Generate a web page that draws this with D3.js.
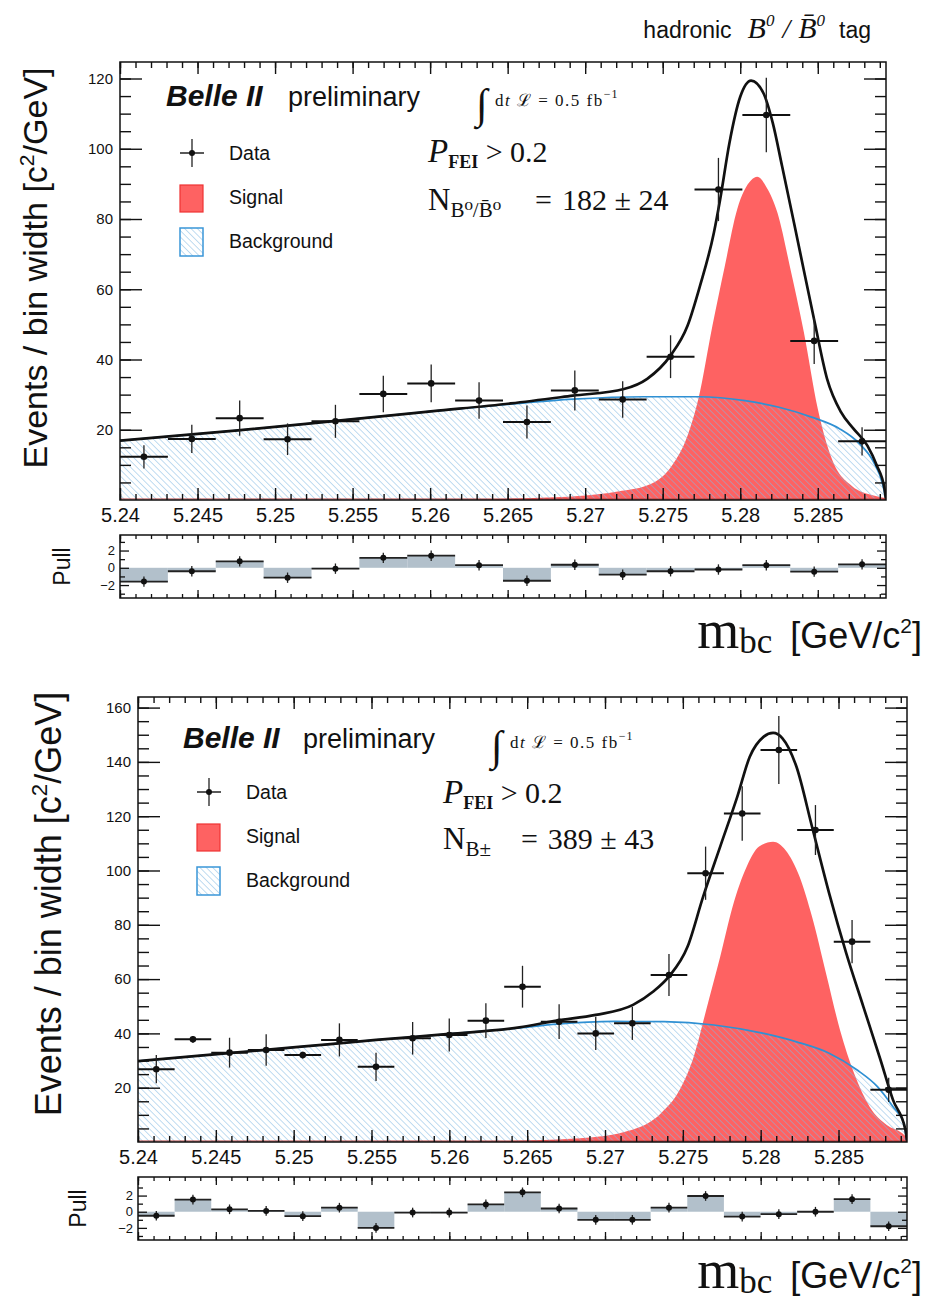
<!DOCTYPE html>
<html lang="en">
<head>
<meta charset="UTF-8">
<title>Belle II mbc fits</title>
<script src="https://d3js.org/d3.v7.min.js"></script>
<style>
    body { margin: 0; background: white; }
    text { font-family: "Liberation Sans", Arial, sans-serif; fill: #111; }
    .serif { font-family: "Liberation Serif", "DejaVu Serif", serif; }
    .tick line { stroke: #111; }
</style>
</head>
<body>
<svg id="svg1" width="935" height="1301" style="background:white;"></svg>

<script>
// ---------------- data ----------------
const massRange = [5.24, 5.2894];
const majorTicksX = [5.24, 5.245, 5.25, 5.255, 5.26, 5.265, 5.27, 5.275, 5.28, 5.285];
const legendLabels = ["Data", "Signal", "Background"];

// neutral B tag (top)
const b0Counts = [12.3, 17.4, 23.3, 17.3, 22.4, 30.2, 33.2, 28.3, 22.2, 31.2, 28.6, 40.8, 88.4, 109.6, 45.3, 16.7];
const b0Errors = [3.3, 4.0, 5.0, 4.5, 4.7, 5.2, 5.4, 5.2, 4.7, 5.7, 5.2, 6.1, 9.0, 10.6, 6.6, 4.0];
const b0Pulls = [-1.6, -0.4, 0.75, -1.15, -0.1, 1.15, 1.4, 0.3, -1.5, 0.35, -0.8, -0.4, -0.2, 0.3, -0.45, 0.4];
const b0BkgX = [5.240, 5.2476, 5.2536, 5.2602, 5.2652, 5.2692, 5.2738, 5.2773, 5.2803, 5.2825, 5.2846, 5.2864, 5.2877, 5.2886, 5.2892, 5.2894];
const b0BkgY = [16.9, 19.8, 22.4, 25.3, 27.3, 28.7, 29.4, 29.4, 28.3, 26.4, 23.6, 20.3, 16.0, 10.8, 4.2, 0];
const b0SigX = [5.240, 5.2622, 5.2662, 5.2698, 5.2721, 5.2743, 5.2756, 5.2766, 5.2773, 5.2782, 5.2790, 5.2798, 5.2807, 5.2811, 5.2817, 5.2824, 5.2832, 5.2841, 5.2850, 5.2859, 5.2872, 5.2886, 5.2894];
const b0SigY = [0, 0.1, 0.5, 1.2, 2.4, 4.7, 9.8, 18.3, 28.8, 49.5, 66.5, 82.7, 91.0, 92.0, 89.0, 81.8, 66.5, 47.8, 26.0, 11.8, 4.0, 1.3, 0.5];
const b0TotX = [5.240, 5.2476, 5.2536, 5.2602, 5.2652, 5.2692, 5.2725, 5.2740, 5.2755, 5.2766, 5.2774, 5.2783, 5.2787, 5.2793, 5.2800, 5.2807, 5.2815, 5.2821, 5.2827, 5.2836, 5.2848, 5.2856, 5.2865, 5.2873, 5.2882, 5.2888, 5.2893, 5.2894];
const b0TotY = [16.9, 19.8, 22.4, 25.3, 27.5, 29.7, 31.6, 34.5, 41.1, 49.6, 60.9, 76.1, 85.5, 101.6, 114.8, 119.4, 115.8, 107.3, 95.0, 76.1, 50.6, 34.5, 25.0, 20.3, 15.5, 9.9, 3.3, 0];

// charged B tag (bottom)
const bpCounts = [26.8, 37.8, 32.9, 33.9, 32.0, 37.6, 27.7, 38.2, 39.4, 44.7, 57.2, 44.3, 40.0, 43.7, 61.5, 99.0, 121.0, 144.4, 114.9, 73.8, 19.2];
const bpErrors = [5.2, 1.2, 5.5, 5.8, 1.2, 6.1, 5.2, 6.0, 6.1, 6.4, 7.7, 6.4, 6.1, 6.1, 7.7, 9.8, 10.0, 12.5, 9.2, 8.0, 4.5];
const bpPulls = [-0.5, 1.5, 0.3, 0.1, -0.55, 0.5, -2.0, -0.1, -0.1, 0.9, 2.4, 0.4, -1.0, -1.0, 0.5, 1.95, -0.6, -0.3, 0.0, 1.55, -1.8];
const bpBkgX = [5.240, 5.2458, 5.2505, 5.2553, 5.2600, 5.2645, 5.2669, 5.2706, 5.2738, 5.2770, 5.2802, 5.2823, 5.2844, 5.2862, 5.2875, 5.2885, 5.2892, 5.2894];
const bpBkgY = [29.8, 32.7, 35.1, 37.6, 39.8, 42.0, 43.4, 44.4, 44.3, 43.1, 40.0, 36.9, 32.7, 26.5, 20.4, 13.0, 6.9, 0];
const bpSigX = [5.240, 5.2622, 5.2684, 5.2717, 5.2736, 5.2748, 5.2757, 5.2765, 5.2774, 5.2782, 5.2791, 5.2799, 5.2808, 5.2816, 5.2825, 5.2833, 5.2842, 5.2851, 5.2860, 5.2870, 5.2881, 5.2891, 5.2894];
const bpSigY = [0, 0.3, 1.4, 4.4, 10.6, 19.2, 31.4, 48.6, 68.2, 86.7, 101.4, 108.8, 110.6, 107.5, 97.7, 83.0, 62.1, 41.2, 25.3, 13.0, 6.3, 3.2, 1.5];
const bpTotX = [5.240, 5.2458, 5.2505, 5.2553, 5.2600, 5.2645, 5.2669, 5.2694, 5.2718, 5.2731, 5.2741, 5.2753, 5.2763, 5.2774, 5.2785, 5.2793, 5.2802, 5.2808, 5.2814, 5.2823, 5.2833, 5.2844, 5.2855, 5.2866, 5.2877, 5.2885, 5.2893, 5.2894];
const bpTotY = [29.8, 32.7, 35.1, 37.6, 39.8, 42.2, 44.7, 46.8, 50.5, 55.4, 60.9, 71.9, 90.3, 108.8, 127.2, 141.9, 149.3, 150.7, 148.7, 138.2, 116.1, 91.6, 69.5, 49.8, 30.2, 15.5, 4.4, 0];

const pullErrorBar = 0.6;

// ---------------- svg setup ----------------
const svg1 = d3.select("svg#svg1");
const defs = svg1.append("defs");

const hatch = defs.append("pattern")
    .attr("id", "hatch")
    .attr("patternUnits", "userSpaceOnUse")
    .attr("width", 4.5).attr("height", 4.5)
    .attr("patternTransform", "rotate(-45)");
hatch.append("line")
    .attr("x1", 0).attr("y1", 0).attr("x2", 0).attr("y2", 4.5)
    .attr("stroke", "#80b9e2").attr("stroke-width", 1);

const fmtMass = d => (+d.toFixed(3)).toString();

// rich text: parts = [{t, size, dx, dy, italic, bold, serif}]
function richText(g, x, y, parts, anchor) {
    const t = g.append("text").attr("x", x).attr("y", y)
        .attr("text-anchor", anchor || "start");
    parts.forEach(p => {
        const s = t.append("tspan").text(p.t)
            .style("font-size", p.size + "px");
        if (p.dx) s.attr("dx", p.dx);
        if (p.dy) s.attr("dy", p.dy);
        if (p.italic) s.style("font-style", "italic");
        if (p.bold) s.style("font-weight", "bold");
        if (p.serif) s.attr("class", "serif");
        if (p.ls) s.style("letter-spacing", p.ls + "px");
    });
    return t;
}

// ---------------- panel drawing ----------------
function drawPanel(p) {
    const g = svg1.append("g");
    const x = d3.scaleLinear().domain(massRange).range([p.left, p.right]);
    const y = d3.scaleLinear().domain([0, p.yMax]).range([p.bottom, p.top]);
    const yp = d3.scaleLinear().domain(p.pullDomain).range([p.pullBottom, p.pullTop]);

    const nBins = p.counts.length;
    const binW = (massRange[1] - massRange[0]) / nBins;
    const centers = d3.range(nBins).map(i => massRange[0] + (i + 0.5) * binW);

    const clipId = "clip" + p.id;
    defs.append("clipPath").attr("id", clipId)
        .append("rect")
        .attr("x", p.left).attr("y", p.top)
        .attr("width", p.right - p.left).attr("height", p.bottom - p.top);

    const plot = g.append("g").attr("clip-path", `url(#${clipId})`);

    const sig = d3.zip(p.sigX, p.sigY);
    const bkg = d3.zip(p.bkgX, p.bkgY);
    const tot = d3.zip(p.totX, p.totY);

    const area = d3.area().curve(d3.curveMonotoneX)
        .x(d => x(d[0])).y0(y(0)).y1(d => y(d[1]));
    const line = d3.line().curve(d3.curveMonotoneX)
        .x(d => x(d[0])).y(d => y(d[1]));

    // signal, then hatched background over it
    plot.append("path").attr("d", area(sig)).attr("fill", "#fe6262");
    plot.append("path").attr("d", area(bkg)).attr("fill", "url(#hatch)");
    plot.append("path").attr("d", line(bkg))
        .attr("fill", "none").attr("stroke", "#2f90d3").attr("stroke-width", 1.7);
    plot.append("path").attr("d", line(tot))
        .attr("fill", "none").attr("stroke", "#111").attr("stroke-width", 2.7);

    // data points
    const pts = plot.selectAll("g.pt")
        .data(d3.range(nBins))
        .join("g").attr("class", "pt");
    pts.append("line")
        .attr("x1", i => x(centers[i])).attr("x2", i => x(centers[i]))
        .attr("y1", i => y(p.counts[i] - p.errors[i]))
        .attr("y2", i => y(p.counts[i] + p.errors[i]))
        .attr("stroke", "#222").attr("stroke-width", 1.3);
    pts.append("line")
        .attr("x1", i => x(centers[i] - binW / 2)).attr("x2", i => x(centers[i] + binW / 2))
        .attr("y1", i => y(p.counts[i])).attr("y2", i => y(p.counts[i]))
        .attr("stroke", "#111").attr("stroke-width", 2);
    pts.append("circle")
        .attr("cx", i => x(centers[i])).attr("cy", i => y(p.counts[i]))
        .attr("r", 3.3).attr("fill", "#111");

    // signal curve at zero shows as a dark red floor
    g.append("line")
        .attr("x1", x(massRange[0])).attr("x2", x(massRange[1]))
        .attr("y1", y(0) - 1).attr("y2", y(0) - 1)
        .attr("stroke", "#b23a3a").attr("stroke-width", 1.2);

    // ---- axes of main frame
    const minorX = d3.range(0, 50).map(i => 5.24 + i * 0.001).filter(v => v <= massRange[1]);
    const majorY = d3.range(p.yStep, p.yMax, p.yStep);
    const minorY = d3.range(5, p.yMax, 5);

    const axes = [
        [d3.axisBottom(x).tickValues(majorTicksX).tickSize(-12).tickPadding(7).tickFormat(fmtMass), `translate(0,${p.bottom})`, "xlab"],
        [d3.axisBottom(x).tickValues(minorX).tickSize(-6).tickFormat(""), `translate(0,${p.bottom})`],
        [d3.axisTop(x).tickValues(majorTicksX).tickSize(-12).tickFormat(""), `translate(0,${p.top})`],
        [d3.axisTop(x).tickValues(minorX).tickSize(-6).tickFormat(""), `translate(0,${p.top})`],
        [d3.axisLeft(y).tickValues(majorY).tickSize(-22).tickPadding(7), `translate(${p.left},0)`, "ylab"],
        [d3.axisLeft(y).tickValues(minorY).tickSize(-11).tickFormat(""), `translate(${p.left},0)`],
        [d3.axisRight(y).tickValues(majorY).tickSize(-22).tickFormat(""), `translate(${p.right},0)`],
        [d3.axisRight(y).tickValues(minorY).tickSize(-11).tickFormat(""), `translate(${p.right},0)`]
    ];
    axes.forEach(a => {
        const ax = g.append("g").attr("transform", a[1]).call(a[0]);
        ax.select(".domain").remove();
        ax.selectAll(".tick line").attr("stroke-width", 1.4);
        if (a[2] === "xlab") ax.selectAll("text").style("font-size", "20px").attr("dy", "0.75em");
        if (a[2] === "ylab") ax.selectAll("text").style("font-size", "15px");
    });

    g.append("rect")
        .attr("x", p.left).attr("y", p.top)
        .attr("width", p.right - p.left).attr("height", p.bottom - p.top)
        .attr("fill", "none").attr("stroke", "#111").attr("stroke-width", 1.5);

    // ---- pull frame
    const pg = g.append("g");
    pg.selectAll("rect.pullbar")
        .data(d3.range(nBins))
        .join("rect").attr("class", "pullbar")
        .attr("x", i => x(centers[i] - binW / 2))
        .attr("width", x(massRange[0] + binW) - x(massRange[0]))
        .attr("y", i => Math.min(yp(0), yp(p.pulls[i])))
        .attr("height", i => Math.abs(yp(p.pulls[i]) - yp(0)))
        .attr("fill", "#b2c0cb");
    const pp = pg.selectAll("g.pp")
        .data(d3.range(nBins))
        .join("g").attr("class", "pp");
    pp.append("line")
        .attr("x1", i => x(centers[i] - binW / 2)).attr("x2", i => x(centers[i] + binW / 2))
        .attr("y1", i => yp(p.pulls[i])).attr("y2", i => yp(p.pulls[i]))
        .attr("stroke", "#222").attr("stroke-width", 1.8);
    pp.append("line")
        .attr("x1", i => x(centers[i])).attr("x2", i => x(centers[i]))
        .attr("y1", i => yp(p.pulls[i] - pullErrorBar)).attr("y2", i => yp(p.pulls[i] + pullErrorBar))
        .attr("stroke", "#222").attr("stroke-width", 1.3);
    pp.append("circle")
        .attr("cx", i => x(centers[i])).attr("cy", i => yp(p.pulls[i]))
        .attr("r", 3).attr("fill", "#111");

    const pullAxes = [
        [d3.axisBottom(x).tickValues(majorTicksX).tickSize(-8).tickFormat(""), `translate(0,${p.pullBottom})`],
        [d3.axisBottom(x).tickValues(minorX).tickSize(-4).tickFormat(""), `translate(0,${p.pullBottom})`],
        [d3.axisTop(x).tickValues(majorTicksX).tickSize(-8).tickFormat(""), `translate(0,${p.pullTop})`],
        [d3.axisTop(x).tickValues(minorX).tickSize(-4).tickFormat(""), `translate(0,${p.pullTop})`],
        [d3.axisLeft(yp).tickValues([-2, 0, 2]).tickSize(-9).tickPadding(5).tickFormat(d => d < 0 ? "\u22122" : d), `translate(${p.left},0)`, "ylab"],
        [d3.axisLeft(yp).tickValues([-3, -1, 1, 3]).tickSize(-5).tickFormat(""), `translate(${p.left},0)`],
        [d3.axisRight(yp).tickValues([-2, 0, 2]).tickSize(-9).tickFormat(""), `translate(${p.right},0)`],
        [d3.axisRight(yp).tickValues([-3, -1, 1, 3]).tickSize(-5).tickFormat(""), `translate(${p.right},0)`]
    ];
    pullAxes.forEach(a => {
        const ax = pg.append("g").attr("transform", a[1]).call(a[0]);
        ax.select(".domain").remove();
        ax.selectAll(".tick line").attr("stroke-width", 1.3);
        if (a[2] === "ylab") ax.selectAll("text").style("font-size", "13px");
    });
    pg.append("rect")
        .attr("x", p.left).attr("y", p.pullTop)
        .attr("width", p.right - p.left).attr("height", p.pullBottom - p.pullTop)
        .attr("fill", "none").attr("stroke", "#111").attr("stroke-width", 1.5);

    // ---- axis titles
    richText(g, 0, 0, [
        { t: "Events / bin width [c", size: p.yTitleSize },
        { t: "2", size: p.yTitleSize * 0.62, dy: -p.yTitleSize * 0.38 },
        { t: "/GeV]", size: p.yTitleSize, dy: p.yTitleSize * 0.38 }
    ], "middle").attr("transform", `translate(${p.yTitleX},${p.yTitleY}) rotate(-90)`);

    g.append("text").text("Pull")
        .attr("transform", `translate(${p.pullTitleX},${(p.pullTop + p.pullBottom) / 2}) rotate(-90)`)
        .attr("text-anchor", "middle")
        .style("font-size", "23px");

    richText(g, 922, p.xTitleY, [
        { t: "m", size: 54, serif: true },
        { t: "bc", size: 35, serif: true, dy: 5 },
        { t: "[GeV/c", size: 36, dx: 18, dy: -5 },
        { t: "2", size: 21, dy: -15 },
        { t: "]", size: 36, dy: 15 }
    ], "end");

    // ---- in-frame labels
    const L = p.label;
    g.append("text").text("Belle II")
        .attr("x", L.belleX).attr("y", L.belleY)
        .style("font-size", "30px").style("font-style", "italic").style("font-weight", "bold");
    g.append("text").text("preliminary")
        .attr("x", L.prelimX).attr("y", L.belleY)
        .style("font-size", "27px");
    g.append("text").attr("class", "serif").text("\u222B")
        .attr("x", L.intX).attr("y", L.belleY + 12)
        .style("font-size", "42px").style("font-style", "italic");
    richText(g, L.intX + 19, L.belleY, [
        { t: "d", size: 17, serif: true, ls: 1.5 },
        { t: "t ", size: 17, serif: true, italic: true, ls: 1.5 },
        { t: "\u2112 = 0.5 fb", size: 17, serif: true, ls: 1.5 },
        { t: "\u22121", size: 12, serif: true, dy: -8, ls: 1 }
    ]);
    richText(g, L.textX, L.pY, [
        { t: "P", size: 33, serif: true, italic: true },
        { t: "FEI", size: 18, serif: true, bold: true, dy: 6 },
        { t: " > 0.2", size: 30, serif: true, dy: -6 }
    ]);
    richText(g, L.textX, L.nY, [
        { t: "N", size: 31, serif: true },
        { t: L.nSub, size: 21, serif: true, dy: 7 },
        { t: "=", size: 30, serif: true, dx: L.nGap, dy: -7 },
        { t: L.nValue, size: 30, serif: true, dx: 10 }
    ]);

    // legend
    const lg = g.append("g");
    lg.append("line").attr("x1", L.legX + 12).attr("x2", L.legX + 12)
        .attr("y1", L.legY - 14).attr("y2", L.legY + 14)
        .attr("stroke", "#222").attr("stroke-width", 1.3);
    lg.append("line").attr("x1", L.legX).attr("x2", L.legX + 24)
        .attr("y1", L.legY).attr("y2", L.legY)
        .attr("stroke", "#222").attr("stroke-width", 1.5);
    lg.append("circle").attr("cx", L.legX + 12).attr("cy", L.legY).attr("r", 3).attr("fill", "#111");
    lg.append("rect").attr("x", L.legX).attr("y", L.legY + 32)
        .attr("width", 23).attr("height", 27)
        .attr("fill", "#fe6262").attr("stroke", "#e33").attr("stroke-width", 1.2);
    lg.append("rect").attr("x", L.legX).attr("y", L.legY + 75)
        .attr("width", 23).attr("height", 28)
        .attr("fill", "url(#hatch)").attr("stroke", "#3a96d8").attr("stroke-width", 1.5);
    lg.selectAll("text.leg")
        .data(legendLabels)
        .join("text").attr("class", "leg")
        .attr("x", L.legX + 49)
        .attr("y", (d, i) => L.legY + 7 + i * 44)
        .text(d => d)
        .style("font-size", "19.5px");
}

// title above the top panel
richText(svg1, 871, 38, [
    { t: "hadronic", size: 23 },
    { t: "B", size: 30, serif: true, italic: true, dx: 16 },
    { t: "0", size: 17, serif: true, italic: true, dy: -12 },
    { t: "/", size: 28, serif: true, italic: true, dx: 8, dy: 12 },
    { t: "B\u0304", size: 30, serif: true, italic: true, dx: 8 },
    { t: "0", size: 17, serif: true, italic: true, dy: -12 },
    { t: "tag", size: 23, dx: 14, dy: 12 }
], "end");

drawPanel({
    id: "b0", left: 120, right: 886, top: 62, bottom: 500, yMax: 124.7, yStep: 20,
    pullTop: 535, pullBottom: 598, pullDomain: [-3.5, 3.8],
    counts: b0Counts, errors: b0Errors, pulls: b0Pulls,
    bkgX: b0BkgX, bkgY: b0BkgY, sigX: b0SigX, sigY: b0SigY, totX: b0TotX, totY: b0TotY,
    yTitleX: 47, yTitleY: 268, yTitleSize: 34, pullTitleX: 70, xTitleY: 648,
    label: { belleX: 166, prelimX: 288, belleY: 106, intX: 476, textX: 428, pY: 162, nY: 210,
             nSub: "B\u2070/B\u0304\u2070", nGap: 34, nValue: "182 \u00B1 24", legX: 180, legY: 153 }
});

drawPanel({
    id: "bp", left: 138, right: 907, top: 697, bottom: 1142, yMax: 163.9, yStep: 20,
    pullTop: 1177, pullBottom: 1240, pullDomain: [-3.5, 4.3],
    counts: bpCounts, errors: bpErrors, pulls: bpPulls,
    bkgX: bpBkgX, bkgY: bpBkgY, sigX: bpSigX, sigY: bpSigY, totX: bpTotX, totY: bpTotY,
    yTitleX: 61, yTitleY: 904, yTitleSize: 36, pullTitleX: 86, xTitleY: 1288,
    label: { belleX: 183, prelimX: 303, belleY: 748, intX: 491, textX: 443, pY: 803, nY: 849,
             nSub: "B\u00B1", nGap: 30, nValue: "389 \u00B1 43", legX: 197, legY: 792 }
});
</script>
</body>
</html>
